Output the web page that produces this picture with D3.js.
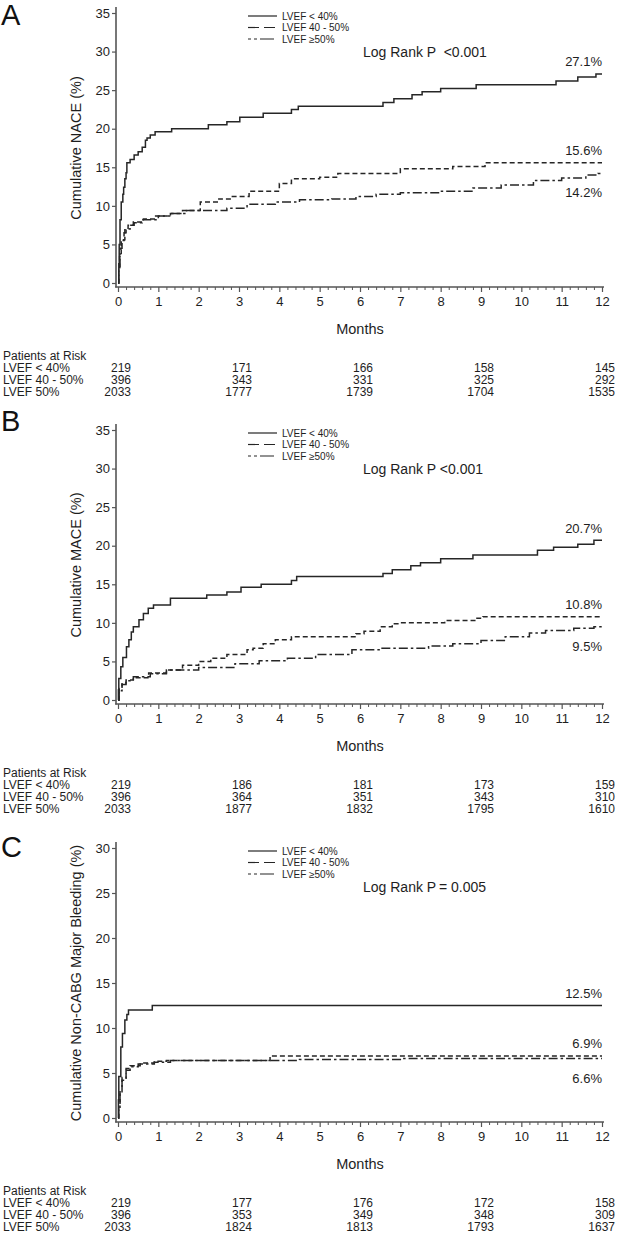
<!DOCTYPE html>
<html><head><meta charset="utf-8">
<script src="https://cdn.jsdelivr.net/npm/d3@7"></script>
<style>
html,body{margin:0;padding:0;background:#fff;}
svg{display:block;font-family:"Liberation Sans",Arial,sans-serif;}
</style></head><body>
<svg id="chart" width="618" height="1235"></svg>
<script>
// ---------- data ----------
const monthTicks = [0,1,2,3,4,5,6,7,8,9,10,11,12];
const riskMonths = [0,3,6,9,12];
const legendLabels = ["LVEF < 40%", "LVEF 40 - 50%", "LVEF \u226550%"];
const riskLabels = ["LVEF < 40%", "LVEF 40 - 50%", "LVEF 50%"];
const riskTitle = "Patients at Risk";

// Panel A: NACE
const aLt40 = [[0,0],[0.02,2.5],[0.03,5],[0.05,8.2],[0.08,10.5],[0.12,11.5],[0.14,12.4],[0.17,13.5],[0.2,14.3],[0.22,15.6],[0.3,16.0],[0.4,16.6],[0.5,17.0],[0.6,17.6],[0.68,18.5],[0.72,18.8],[0.8,19.2],[0.92,19.6],[1.33,20.0],[2.24,20.5],[2.7,20.9],[3.02,21.5],[3.6,22.0],[4.3,22.5],[4.47,22.9],[6.57,23.4],[6.84,23.9],[7.29,24.4],[7.54,24.8],[8.0,25.2],[8.88,25.7],[10.86,26.2],[11.4,26.7],[11.85,27.1]];
const a4050 = [[0,0],[0.02,1.5],[0.04,3.4],[0.08,5.6],[0.17,6.9],[0.25,7.5],[0.38,7.9],[0.63,8.3],[0.9,8.7],[1.3,9.0],[1.6,9.4],[2.04,10.5],[2.5,10.9],[2.8,11.2],[3.25,11.9],[4.0,12.9],[4.3,13.5],[5.0,13.7],[5.45,14.2],[7.0,14.8],[8.3,15.1],[9.1,15.6]];
const aGe50 = [[0,0],[0.02,2],[0.05,4.5],[0.1,5.5],[0.15,6.5],[0.2,7.0],[0.3,7.5],[0.4,7.8],[0.6,8.2],[1.0,8.7],[1.3,9.0],[1.7,9.4],[2.7,9.7],[3.2,10.2],[3.9,10.5],[4.5,10.8],[5.3,10.9],[5.9,11.2],[6.4,11.5],[7.0,11.7],[8.0,11.9],[8.8,12.3],[9.5,12.7],[10.3,13.3],[11.0,13.6],[11.6,14.0],[11.9,14.2]];
const aEnd = [27.1, 15.6, 14.2];
const aRisk = [[219,171,166,158,145],[396,343,331,325,292],[2033,1777,1739,1704,1535]];

// Panel B: MACE
const bLt40 = [[0,0],[0.01,1.3],[0.02,2.8],[0.07,4.3],[0.12,5.5],[0.21,6.9],[0.27,7.8],[0.33,8.8],[0.38,9.5],[0.52,10.4],[0.63,11.2],[0.75,11.9],[0.88,12.3],[1.3,13.2],[2.2,13.6],[2.7,14.0],[3.05,14.6],[3.55,15.0],[4.3,15.5],[4.43,16.0],[6.57,16.4],[6.8,16.9],[7.26,17.4],[7.5,17.8],[8.0,18.3],[8.8,18.8],[10.4,19.4],[10.8,19.8],[11.4,20.2],[11.8,20.7]];
const b4050 = [[0,0],[0.03,1.5],[0.1,2.2],[0.2,2.6],[0.38,2.9],[0.76,3.5],[1.2,3.9],[1.6,4.5],[2.0,5.0],[2.3,5.4],[2.7,5.9],[3.2,6.5],[3.35,6.7],[3.6,7.3],[3.9,7.8],[4.3,8.2],[5.9,8.6],[6.1,8.9],[6.5,9.5],[6.8,9.9],[7.0,10.0],[8.1,10.3],[8.9,10.6],[9.05,10.8]];
const bGe50 = [[0,0],[0.03,1.2],[0.1,2.0],[0.2,2.5],[0.38,3.0],[0.8,3.4],[1.2,3.9],[2.0,4.2],[2.9,4.7],[3.5,5.1],[4.2,5.4],[4.9,5.9],[5.8,6.5],[6.5,6.7],[7.7,7.0],[8.3,7.3],[9.0,7.7],[9.6,8.2],[10.2,8.7],[10.6,9.0],[11.3,9.3],[11.8,9.5]];
const bEnd = [20.7, 10.8, 9.5];
const bRisk = [[219,186,181,173,159],[396,364,351,343,310],[2033,1877,1832,1795,1610]];

// Panel C: Non-CABG major bleeding
const cLt40 = [[0,0],[0.01,2],[0.02,4.6],[0.07,7.9],[0.11,9.4],[0.17,10.9],[0.22,11.5],[0.26,12.0],[0.85,12.5]];
const c4050 = [[0,0],[0.02,1.5],[0.05,3.0],[0.1,4.5],[0.2,5.5],[0.3,5.8],[0.55,6.1],[0.9,6.3],[1.2,6.4],[3.77,6.9]];
const cGe50 = [[0,0],[0.02,1.2],[0.05,2.8],[0.1,4.2],[0.2,5.3],[0.3,5.7],[0.5,6.0],[0.9,6.2],[1.3,6.4],[4.5,6.5],[7.0,6.6]];
const cEnd = [12.5, 6.9, 6.6];
const cRisk = [[219,177,176,172,158],[396,353,349,348,309],[2033,1824,1813,1793,1637]];

const panels = [
  {letter:"A", yLabel:"Cumulative NACE (%)", yMax:35, logRank:"Log Rank P  <0.001", series:[aLt40,a4050,aGe50], ends:aEnd, risk:aRisk},
  {letter:"B", yLabel:"Cumulative MACE (%)", yMax:35, logRank:"Log Rank P <0.001", series:[bLt40,b4050,bGe50], ends:bEnd, risk:bRisk},
  {letter:"C", yLabel:"Cumulative Non-CABG Major Bleeding (%)", yMax:30, logRank:"Log Rank P\u2009= 0.005", series:[cLt40,c4050,cGe50], ends:cEnd, risk:cRisk}
];

// ---------- layout / style ----------
const panelTops = [13, 430, 848];
const letterY = [25, 431, 857];
const plotH = 270;
const dashes = [null, "5,3", "9,3,2.5,3"];
const endLabelDy = [-7.5, -7.5, 24];
const ink = "#1e1e1e";
const lineColor = "#262626";
const axisColor = "#555";

const svg = d3.select("#chart");
const x = d3.scaleLinear().domain([0,12]).range([118,602]);

panels.forEach((p, i) => {
  const top = panelTops[i];
  const y = d3.scaleLinear().domain([0,p.yMax]).range([top+plotH, top]);
  const y0 = y(0);
  const g = svg.append("g");

  // letter
  g.append("text").attr("x", 1).attr("y", letterY[i]).attr("font-size", 29).attr("fill", "#111").text(p.letter);

  // y axis
  const yAx = g.append("g").attr("transform", "translate(116,0)")
    .call(d3.axisLeft(y).tickValues(d3.range(0, p.yMax+1, 5)).tickSize(4).tickPadding(2));
  yAx.select(".domain").remove();
  yAx.selectAll("line").attr("stroke", axisColor).attr("stroke-width", 1.2);
  yAx.selectAll("text").attr("font-size", 13).attr("fill", ink).attr("font-family", "Liberation Sans, Arial, sans-serif");
  g.append("line").attr("x1",116).attr("x2",116).attr("y1", top-6).attr("y2", y0+4.6)
    .attr("stroke", axisColor).attr("stroke-width", 1.6);

  // x axis
  const xa = y0 + 4;
  const minor = d3.range(0, 60.5, 1).map(d => d/5).filter(d => Math.abs(d - Math.round(d)) > 1e-6);
  const xMin = g.append("g").attr("transform", `translate(0,${xa})`)
    .call(d3.axisBottom(x).tickValues(minor).tickSize(3).tickFormat(""));
  xMin.select(".domain").remove();
  xMin.selectAll("line").attr("stroke", axisColor).attr("stroke-width", 1);
  const xMaj = g.append("g").attr("transform", `translate(0,${xa})`)
    .call(d3.axisBottom(x).tickValues(monthTicks).tickSize(5).tickPadding(5).tickFormat(d3.format("d")));
  xMaj.select(".domain").remove();
  xMaj.selectAll("line").attr("stroke", axisColor).attr("stroke-width", 1.2);
  xMaj.selectAll("text").attr("font-size", 13).attr("fill", ink).attr("font-family", "Liberation Sans, Arial, sans-serif");
  g.append("line").attr("x1",115.2).attr("x2",604).attr("y1", xa).attr("y2", xa)
    .attr("stroke", axisColor).attr("stroke-width", 1.6);

  // axis titles
  g.append("text").attr("transform", `translate(81,${top+plotH/2}) rotate(-90)`)
    .attr("text-anchor","middle").attr("font-size",14.5).attr("fill",ink).text(p.yLabel);
  g.append("text").attr("x", 360).attr("y", y0+51).attr("text-anchor","middle")
    .attr("font-size",14.5).attr("fill",ink).text("Months");

  // legend
  legendLabels.forEach((lab, k) => {
    const ly = top + 3 + k*11.5;
    g.append("line").attr("x1",248).attr("x2",277).attr("y1",ly).attr("y2",ly)
      .attr("stroke", lineColor).attr("stroke-width",1.2)
      .attr("stroke-dasharray", k===0 ? null : (k===1 ? "11,5" : "3,3,3,3,14"));
    g.append("text").attr("x",282).attr("y",ly+3.5).attr("font-size",10).attr("fill",ink).text(lab);
  });

  // log rank
  g.append("text").attr("x",363).attr("y",top+44).attr("font-size",14).attr("fill",ink)
    .style("white-space","pre").text(p.logRank);

  // curves
  const line = d3.line().x(d => x(d[0])).y(d => y(d[1])).curve(d3.curveStepAfter);
  p.series.forEach((s, k) => {
    const pts = s.concat([[12, s[s.length-1][1]]]);
    g.append("path").datum(pts).attr("d", line).attr("fill","none")
      .attr("stroke", lineColor).attr("stroke-width", 1.5)
      .attr("stroke-dasharray", dashes[k]);
  });

  // end labels
  p.ends.forEach((v, k) => {
    g.append("text").attr("x", 602).attr("y", y(v) + endLabelDy[k]).attr("text-anchor","end")
      .attr("font-size",13).attr("fill",ink).text(v.toFixed(1) + "%");
  });

  // patients at risk
  const rt = y0 + 77;
  g.append("text").attr("x",3).attr("y",rt).attr("font-size",12).attr("fill",ink).text(riskTitle);
  riskLabels.forEach((lab, k) => {
    const ry = rt + 12 * (k+1);
    g.append("text").attr("x",3).attr("y",ry).attr("font-size",12).attr("fill",ink).text(lab);
    p.risk[k].forEach((n, j) => {
      g.append("text").attr("x", x(riskMonths[j]) + 13).attr("y", ry).attr("text-anchor","end")
        .attr("font-size",12).attr("fill",ink).text(n);
    });
  });
});
</script>
</body></html>
